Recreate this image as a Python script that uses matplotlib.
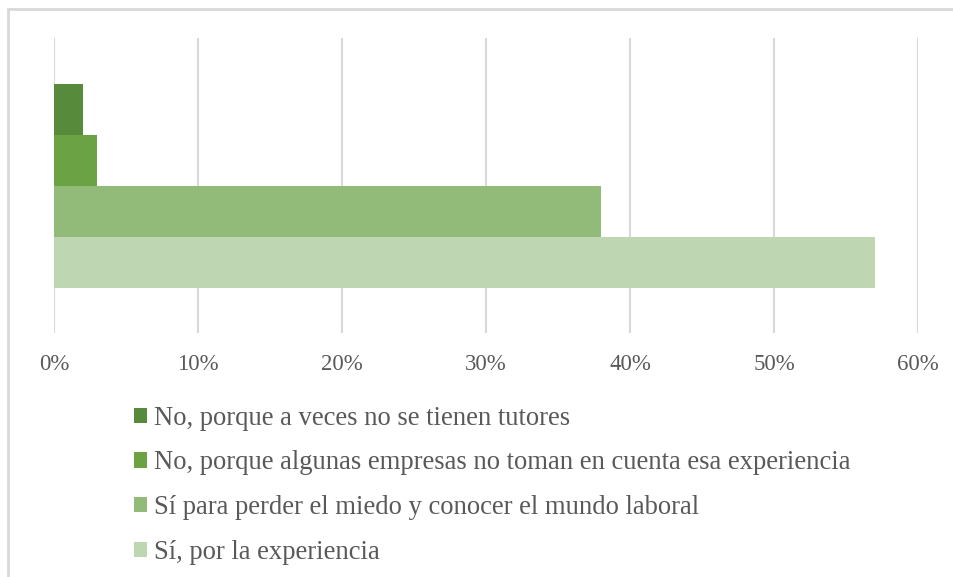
import matplotlib.pyplot as plt
from matplotlib.patches import Rectangle, Patch
from matplotlib.ticker import FuncFormatter

labels = ['No, porque a veces no se tienen tutores',
          'No, porque algunas empresas no toman en cuenta esa experiencia',
          'Sí para perder el miedo y conocer el mundo laboral',
          'Sí, por la experiencia']
values = [2, 3, 38, 57]
colors = ['#578A3A', '#6BA344', '#92BB7A', '#BFD6B3']
xticks = [0, 10, 20, 30, 40, 50, 60]

plt.rcParams['font.family'] = ['Liberation Serif', 'DejaVu Serif']
txt = '#595959'

W, H = 954, 577
fig = plt.figure(figsize=(W / 100, H / 100), dpi=100)
# axes: x 54..918, y 38..333 (pixels from top)
ax = fig.add_axes([54 / W, 1 - 333 / H, (918 - 54) / W, (333 - 38) / H])

bh = 51 / 295.0
n = len(values)
for i, (v, c) in enumerate(zip(values, colors)):
    y = (n / 2 - 0.5 - i) * bh
    ax.barh(y, v, height=bh, color=c, zorder=3)

ax.set_xlim(0, 60)
ax.set_ylim(-0.5, 0.5)
ax.set_xticks(xticks)
ax.xaxis.set_major_formatter(FuncFormatter(lambda x, p: '%d%%' % x))
ax.set_yticks([])
ax.grid(axis='x', color='#D9D9D9', linewidth=1.5, zorder=0)
for s in ax.spines.values():
    s.set_visible(False)
ax.tick_params(axis='x', length=0, pad=15, labelsize=16.5, labelcolor=txt)

# chart-area border (right/bottom run off the picture)
fig.patches.append(Rectangle((8.5 / W, -0.1), 1.2, 1.1 - 8.5 / H,
                             transform=fig.transFigure, fill=False,
                             edgecolor='#D9D9D9', linewidth=2))

handles = [Patch(facecolor=c) for c in colors]
fig.legend(handles, labels, loc='upper left', bbox_to_anchor=(123 / W, 1 - 395 / H),
           frameon=False, fontsize=19.2, labelcolor=txt,
           handlelength=0.5, handleheight=0.5, handletextpad=0.27,
           labelspacing=0.74, borderaxespad=0)

fig.savefig('out.png', dpi=100)
